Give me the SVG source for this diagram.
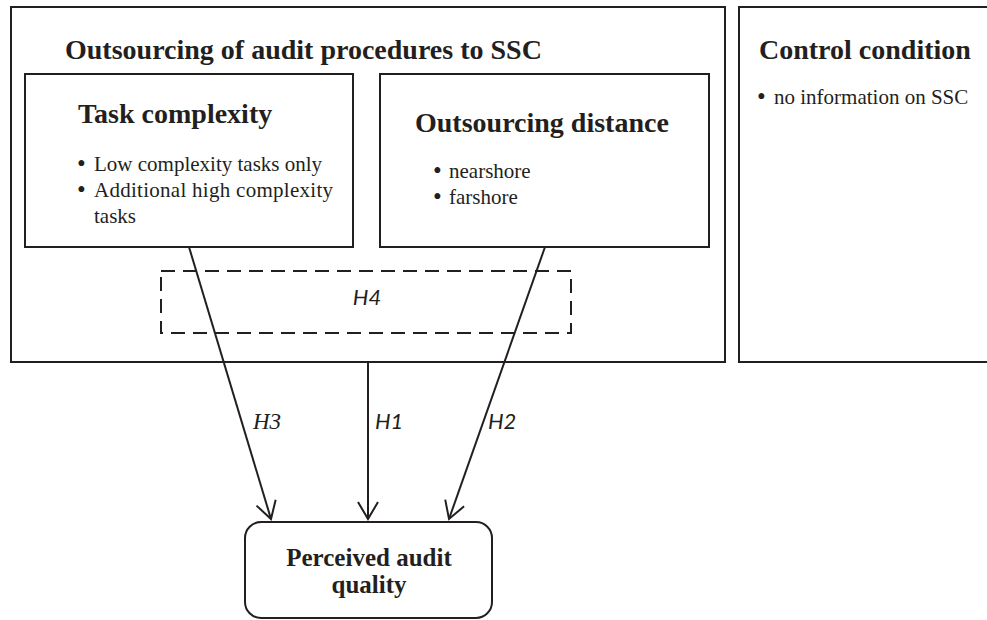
<svg xmlns="http://www.w3.org/2000/svg" width="987" height="620" viewBox="0 0 987 620">
<defs>
<style>
.box{fill:none;stroke:#231f20;stroke-width:2}
.title{font-family:"Liberation Serif",serif;font-weight:bold;font-size:28px;fill:#231f20}
.item{font-family:"Liberation Serif",serif;font-size:21px;fill:#231f20}
.bul{font-family:"Liberation Serif",serif;font-size:25px;fill:#231f20}
.h{font-family:Lato,"Liberation Sans",sans-serif;font-style:italic;font-size:22px;fill:#231f20}
.hs{font-family:"Liberation Serif",serif;font-style:italic;font-size:23px;fill:#231f20}
.conn{stroke:#231f20;stroke-width:2;fill:none;marker-end:url(#arr)}
</style>
<marker id="arr" markerUnits="userSpaceOnUse" markerWidth="40" markerHeight="40" viewBox="-20 -20 40 40" refX="0" refY="0" orient="auto">
<path d="M-17,-10 L0,0 L-17,10" fill="none" stroke="#231f20" stroke-width="2"/>
</marker>
</defs>
<rect width="987" height="620" fill="#fff"/>
<g id="outsourcing">
<rect class="box" x="11" y="7" width="714" height="355"/>
<text class="title" x="65" y="59">Outsourcing of audit procedures to SSC</text>
</g>
<g id="task-complexity">
<rect class="box" x="25" y="74" width="328" height="173"/>
<text class="title" x="78" y="123">Task complexity</text>
<text class="bul" x="77" y="172">•</text>
<text class="item" x="94" y="171">Low complexity tasks only</text>
<text class="bul" x="77" y="198">•</text>
<text class="item" x="94" y="197" textLength="239" lengthAdjust="spacing">Additional high complexity</text>
<text class="item" x="94" y="223">tasks</text>
</g>
<g id="outsourcing-distance">
<rect class="box" x="380" y="74" width="329" height="173"/>
<text class="title" x="415" y="132">Outsourcing distance</text>
<text class="bul" x="433" y="179">•</text>
<text class="item" x="449" y="178">nearshore</text>
<text class="bul" x="433" y="205">•</text>
<text class="item" x="449" y="204">farshore</text>
</g>
<g id="control-condition">
<rect class="box" x="739" y="7" width="260" height="355"/>
<text class="title" x="759" y="59">Control condition</text>
<text class="bul" x="757" y="105">•</text>
<text class="item" x="774" y="104">no information on SSC</text>
</g>
<g id="h4">
<rect x="161" y="271" width="410" height="62" fill="none" stroke="#231f20" stroke-width="2" stroke-dasharray="14,8"/>
<text class="h" x="367" y="305" text-anchor="middle">H4</text>
</g>
<g id="perceived-audit-quality">
<rect class="box" x="245" y="522" width="247" height="96" rx="16"/>
<text class="title" x="369" y="566" text-anchor="middle" style="font-size:25px">Perceived audit</text>
<text class="title" x="369" y="593" text-anchor="middle" style="font-size:25px">quality</text>
</g>
<g id="connectors">
<line class="conn" x1="189" y1="247" x2="271" y2="519"/>
<line class="conn" x1="368" y1="362" x2="368" y2="519"/>
<line class="conn" x1="545" y1="247" x2="449" y2="519"/>
<text class="hs" x="253" y="429">H3</text>
<text class="h" x="375" y="429">H1</text>
<text class="h" x="488" y="429">H2</text>
</g>
</svg>
